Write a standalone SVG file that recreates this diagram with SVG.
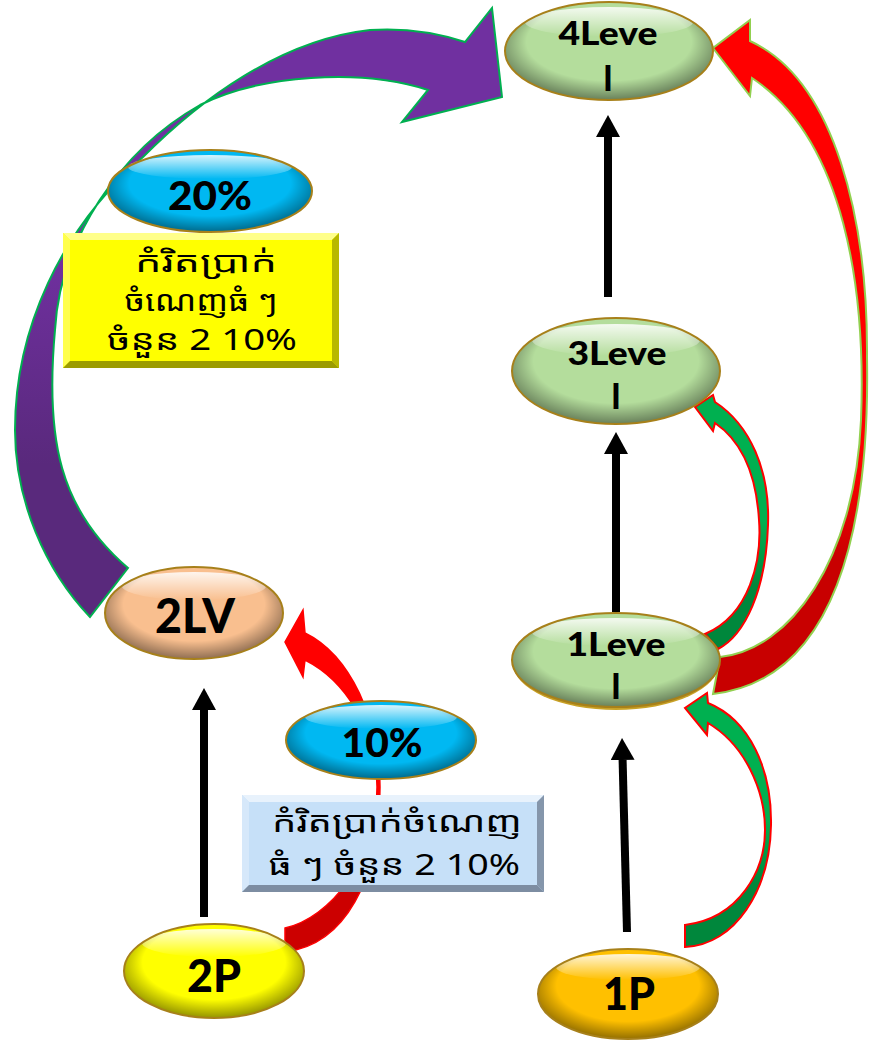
<svg xmlns="http://www.w3.org/2000/svg" width="872" height="1045" viewBox="0 0 872 1045">
<style>
.lbl{font-family:Lato,"Open Sans","DejaVu Sans",sans-serif;font-weight:900;fill:#000;text-anchor:middle}
.km{font-family:"Noto Sans Khmer","Noto Serif Khmer","Khmer OS","Khmer OS System","Noto Sans","DejaVu Sans",sans-serif;font-size:29px;fill:#000;text-anchor:middle}
.rim{fill:none;stroke:#a7801a;stroke-width:2}
.blk{stroke:#000;stroke-width:8;fill:none;marker-end:url(#ah)}
</style>
<defs>
<marker id="ah" markerUnits="userSpaceOnUse" markerWidth="22" markerHeight="24" refX="0" refY="12" orient="auto" viewBox="0 0 22 24"><path d="M0,0 L22,12 L0,24 Z" fill="#000"/></marker>
<radialGradient id="shade" cx="50%" cy="45%" r="55%" fx="50%" fy="30%"><stop offset="0.72" stop-color="#000" stop-opacity="0"/><stop offset="1" stop-color="#000" stop-opacity="0.42"/></radialGradient>
<linearGradient id="gloss" x1="0" y1="0" x2="0" y2="1"><stop offset="0" stop-color="#fff" stop-opacity="0.85"/><stop offset="1" stop-color="#fff" stop-opacity="0"/></linearGradient>
<linearGradient id="gPurple" x1="0" y1="0" x2="0" y2="1"><stop offset="0.4" stop-color="#7030a0"/><stop offset="0.75" stop-color="#59297c"/></linearGradient>
<linearGradient id="gRedBig" x1="0" y1="0" x2="0" y2="1"><stop offset="0.66" stop-color="#ff0000"/><stop offset="0.8" stop-color="#c80000"/></linearGradient>
<linearGradient id="gRed2" x1="0" y1="0" x2="0" y2="1"><stop offset="0.55" stop-color="#ff0000"/><stop offset="0.75" stop-color="#cc0000"/></linearGradient>
<linearGradient id="gGreen" x1="0" y1="0" x2="0" y2="1"><stop offset="0.5" stop-color="#00b050"/><stop offset="0.75" stop-color="#00873c"/></linearGradient>
</defs>
<rect width="872" height="1045" fill="#fff"/>

<g id="connectors">
<path id="c-purple" d="M90,617 C45,570 15,500 15,430 C15,330 60,230 143,157 C200,100 280,40 370,30 C400,28 435,32 465,42 L492,8 L502,97 L402,122 L428,90 C360,68 260,75 200,105 C120,150 60,240 55,330 C45,440 60,510 128,568 Z" fill="url(#gPurple)" stroke="#00b050" stroke-width="2"/>
<path id="c-redbig" d="M720,657 C790,650 855,560 861,420 C866,290 845,140 752,78 L750,96 L713,48 L750,20 L750,41 C835,80 868,220 867,357 C870,530 835,680 713,694 Z" fill="url(#gRedBig)" stroke="#92d050" stroke-width="2"/>
<path id="c-green1" d="M705,634 C750,615 762,560 759,520 C756,470 740,440 715,423 L713,431 L695,407 L713,395 L715,402 C750,425 770,470 768,525 C766,590 745,635 718,649 Z" fill="url(#gGreen)" stroke="#ff0000" stroke-width="2"/>
<path id="c-green2" d="M685,925 C740,918 765,870 765,830 C765,790 745,745 708,723 L707,735 L685,708 L707,693 L708,703 C750,720 772,770 771,825 C770,890 735,945 685,947 Z" fill="url(#gGreen)" stroke="#ff0000" stroke-width="2"/>
<path id="c-red2" d="M285,928 C330,918 377,860 377,787 C377,730 345,680 305,660 L303,677 L285,642 L303,610 L305,633 C350,655 380,720 380,787 C380,880 345,945 285,952 Z" fill="url(#gRed2)" stroke="#ff0000" stroke-width="1.5"/>
<line class="blk" x1="608" y1="297" x2="608" y2="137"/>
<line class="blk" x1="616" y1="612" x2="616" y2="454"/>
<line class="blk" x1="627" y1="932" x2="622.6" y2="760"/>
<line class="blk" x1="204" y1="917" x2="204" y2="710"/>
</g>

<g id="n-4level">
<ellipse cx="609" cy="51" rx="104" ry="49" fill="#b4dd9c"/>
<ellipse cx="609" cy="51" rx="104" ry="49" fill="url(#shade)"/>
<ellipse cx="609" cy="22" rx="84" ry="15" fill="url(#gloss)"/>
<ellipse class="rim" cx="609" cy="51" rx="104" ry="49"/>
<text class="lbl" x="608" y="45" font-size="33" textLength="99" lengthAdjust="spacingAndGlyphs">4Leve</text>
<text class="lbl" x="608" y="91" font-size="35">l</text>
</g>

<g id="n-3level">
<ellipse cx="616" cy="371" rx="104" ry="53" fill="#b4dd9c"/>
<ellipse cx="616" cy="371" rx="104" ry="53" fill="url(#shade)"/>
<ellipse cx="616" cy="340" rx="84" ry="16" fill="url(#gloss)"/>
<ellipse class="rim" cx="616" cy="371" rx="104" ry="53"/>
<text class="lbl" x="617" y="365" font-size="33" textLength="99" lengthAdjust="spacingAndGlyphs">3Leve</text>
<text class="lbl" x="616" y="409" font-size="35">l</text>
</g>

<g id="n-1level">
<ellipse cx="616" cy="663" rx="103" ry="47" fill="#c9a227"/>
<ellipse cx="616" cy="660" rx="104" ry="47" fill="#b4dd9c"/>
<ellipse cx="616" cy="660" rx="104" ry="47" fill="url(#shade)"/>
<ellipse cx="616" cy="632" rx="84" ry="14" fill="url(#gloss)"/>
<ellipse class="rim" cx="616" cy="660" rx="104" ry="47"/>
<text class="lbl" x="616" y="656" font-size="33" textLength="99" lengthAdjust="spacingAndGlyphs">1Leve</text>
<text class="lbl" x="616" y="699" font-size="35">l</text>
</g>

<g id="n-1p">
<ellipse cx="628" cy="994" rx="90" ry="45" fill="#ffc000"/>
<ellipse cx="628" cy="994" rx="90" ry="45" fill="url(#shade)"/>
<ellipse cx="628" cy="967" rx="72" ry="13" fill="url(#gloss)"/>
<ellipse class="rim" cx="628" cy="994" rx="90" ry="45"/>
<text class="lbl" x="629" y="1010" font-size="46" textLength="52" lengthAdjust="spacingAndGlyphs">1P</text>
</g>

<g id="n-2p">
<ellipse cx="214" cy="971" rx="90" ry="47" fill="#ffff00"/>
<ellipse cx="214" cy="971" rx="90" ry="47" fill="url(#shade)"/>
<ellipse cx="214" cy="943" rx="72" ry="14" fill="url(#gloss)"/>
<ellipse class="rim" cx="214" cy="971" rx="90" ry="47"/>
<text class="lbl" x="214" y="992" font-size="46" textLength="54" lengthAdjust="spacingAndGlyphs">2P</text>
</g>

<g id="n-2lv">
<ellipse cx="194" cy="613" rx="89" ry="46" fill="#f9bf8f"/>
<ellipse cx="194" cy="613" rx="89" ry="46" fill="url(#shade)"/>
<ellipse cx="194" cy="586" rx="72" ry="14" fill="url(#gloss)"/>
<ellipse class="rim" cx="194" cy="613" rx="89" ry="46"/>
<text class="lbl" x="195" y="633" font-size="48" textLength="80" lengthAdjust="spacingAndGlyphs">2LV</text>
</g>

<g id="n-20">
<ellipse cx="210" cy="191" rx="102" ry="41" fill="#00b8f2"/>
<ellipse cx="210" cy="191" rx="102" ry="41" fill="url(#shade)"/>
<ellipse cx="210" cy="167" rx="82" ry="12" fill="url(#gloss)"/>
<ellipse class="rim" cx="210" cy="191" rx="102" ry="41"/>
<text class="lbl" x="210" y="210" font-size="40" textLength="84" lengthAdjust="spacingAndGlyphs">20%</text>
</g>

<g id="n-box-yellow">
<rect x="63" y="233" width="276" height="135" fill="#ffff00"/>
<polygon points="63,233 339,233 332,240 70,240" fill="#ffff8a"/>
<polygon points="63,233 70,240 70,361 63,368" fill="#ffff4d"/>
<polygon points="339,233 339,368 332,361 332,240" fill="#b8b800"/>
<polygon points="63,368 339,368 332,361 70,361" fill="#9c9c00"/>
<text class="km" x="206" y="272" textLength="142" lengthAdjust="spacingAndGlyphs">កំរិតប្រាក់</text>
<text class="km" x="201" y="311" textLength="153" lengthAdjust="spacingAndGlyphs">ចំណេញធំ ៗ</text>
<text class="km" x="202" y="350" textLength="190" lengthAdjust="spacingAndGlyphs">ចំនួន 2 10%</text>
</g>

<g id="n-10">
<ellipse cx="381" cy="740" rx="95" ry="39" fill="#00b8f2"/>
<ellipse cx="381" cy="740" rx="95" ry="39" fill="url(#shade)"/>
<ellipse cx="381" cy="717" rx="76" ry="12" fill="url(#gloss)"/>
<ellipse class="rim" cx="381" cy="740" rx="95" ry="39"/>
<text class="lbl" x="382" y="757" font-size="40" textLength="81" lengthAdjust="spacingAndGlyphs">10%</text>
</g>

<g id="n-box-blue">
<rect x="242" y="795" width="302" height="97" fill="#c6e0f8"/>
<polygon points="242,795 544,795 537,802 249,802" fill="#e8f2fc"/>
<polygon points="242,795 249,802 249,885 242,892" fill="#d6e8fa"/>
<polygon points="544,795 544,892 537,885 537,802" fill="#8596ab"/>
<polygon points="242,892 544,892 537,885 249,885" fill="#7d8da2"/>
<text class="km" x="397" y="832" textLength="250" lengthAdjust="spacingAndGlyphs">កំរិតប្រាក់ចំណេញ</text>
<text class="km" x="394" y="875" textLength="252" lengthAdjust="spacingAndGlyphs">ធំ ៗ ចំនួន 2 10%</text>
</g>
</svg>
